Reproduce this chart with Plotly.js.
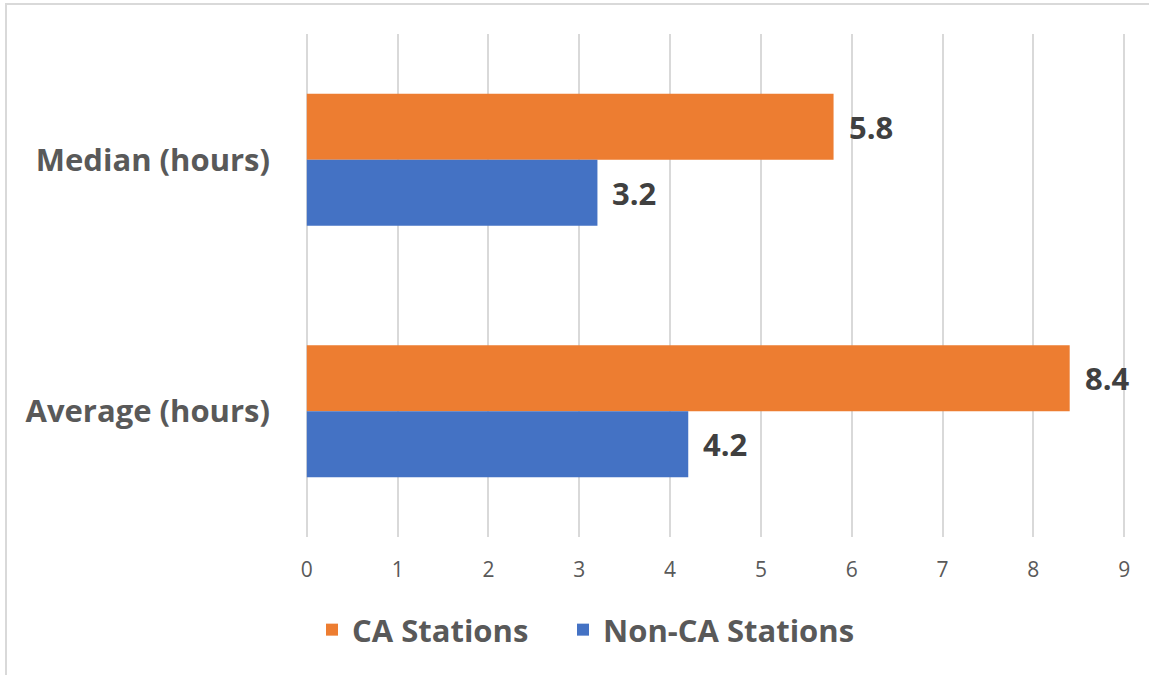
<!DOCTYPE html>
<html>
<head>
<meta charset="utf-8">
<script src="https://cdn.plot.ly/plotly-3.0.1.min.js"></script>
<style>
html,body{margin:0;padding:0;background:#fff;}
#chart{width:1149px;height:675px;}
</style>
</head>
<body>
<div id="chart"></div>
<script>
const categories = ["Median (hours)", "Average (hours)"];
const caStations = [5.8, 8.4];
const nonCaStations = [3.2, 4.2];
const seriesNames = ["CA Stations", "Non-CA Stations"];
const xTicks = [0, 1, 2, 3, 4, 5, 6, 7, 8, 9];

const FONT = "'Open Sans', 'Noto Sans', sans-serif";
const W = 1149, H = 675;
const M = {l: 305, r: 23, t: 34, b: 138};
const pw = W - M.l - M.r, ph = H - M.t - M.b;

const traces = [
  {type: 'bar', orientation: 'h', name: seriesNames[0], y: categories, x: caStations,
   marker: {color: '#ED7D31'}, hoverinfo: 'x+name', legend: 'legend'},
  {type: 'bar', orientation: 'h', name: seriesNames[1], y: categories, x: nonCaStations,
   marker: {color: '#4472C4'}, hoverinfo: 'x+name', legend: 'legend2'}
];

const annotations = [];
const groupW = 0.525;
[caStations, nonCaStations].forEach((vals, si) => {
  vals.forEach((v, ci) => {
    annotations.push({
      x: v, y: ci - groupW / 2 + groupW / 4 + si * groupW / 2,
      xref: 'x', yref: 'y', text: '<b>' + v.toFixed(1) + '</b>',
      showarrow: false, xanchor: 'left', yanchor: 'middle', xshift: 13,
      font: {family: FONT, size: 31, color: '#404040'}
    });
  });
});

const legendBase = {
  orientation: 'h', xanchor: 'left',
  y: (M.t + ph - 630) / ph, yanchor: 'middle',
  font: {family: FONT, size: 31, color: '#595959', weight: 'bold'},
  itemsizing: 'constant', itemwidth: 30, bgcolor: 'rgba(0,0,0,0)'
};

const layout = {
  width: W, height: H,
  margin: M,
  paper_bgcolor: '#fff', plot_bgcolor: '#fff',
  barmode: 'group', bargap: 0.475, bargroupgap: 0,
  showlegend: true,
  legend: Object.assign({}, legendBase, {x: (312 - M.l) / pw}),
  legend2: Object.assign({}, legendBase, {x: (563 - M.l) / pw}),
  xaxis: {range: [-0.02, 9.02], tickvals: xTicks, showgrid: true, gridcolor: '#d9d9d9', gridwidth: 2,
          zeroline: true, zerolinecolor: '#d9d9d9', zerolinewidth: 2, showline: false, ticks: '', ticklen: 0,
          ticklabelstandoff: 18,
          tickfont: {family: FONT, size: 21, color: '#595959'}, fixedrange: true},
  yaxis: {type: 'category', autorange: 'reversed', showgrid: false, zeroline: false, showline: false,
          ticks: '', ticklabelstandoff: 34,
          tickfont: {family: FONT, size: 31, color: '#595959', weight: 'bold'}, fixedrange: true},
  annotations: annotations,
  shapes: [{type: 'rect', xref: 'paper', yref: 'paper',
            x0: (6 - M.l) / pw, x1: (1160 - M.l) / pw,
            y0: (M.t + ph - 690) / ph, y1: (M.t + ph - 4) / ph,
            line: {color: '#d9d9d9', width: 2}, fillcolor: 'rgba(0,0,0,0)', layer: 'below'}],
  font: {family: FONT}
};

Plotly.newPlot('chart', traces, layout, {displayModeBar: false, staticPlot: true});
</script>
</body>
</html>
